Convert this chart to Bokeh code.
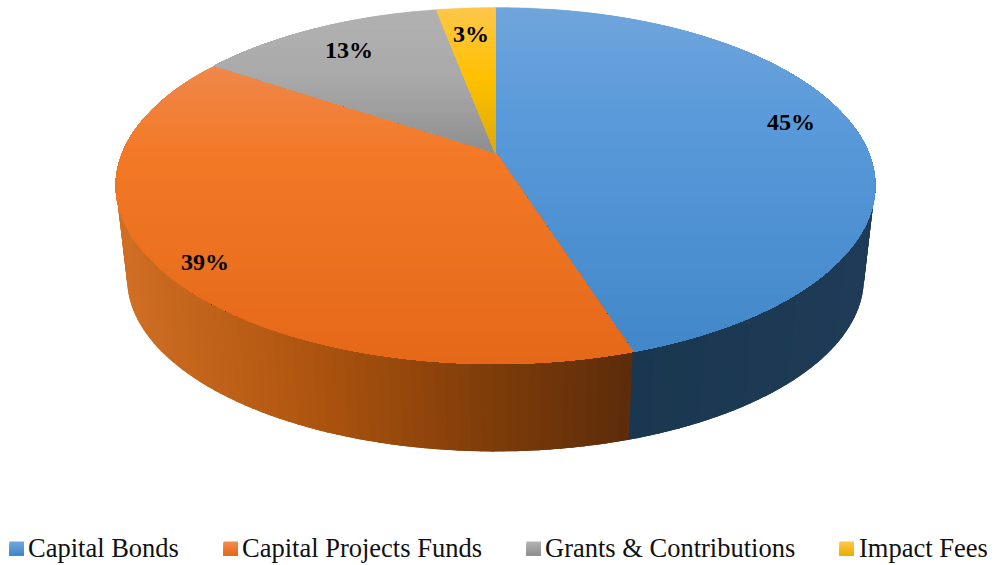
import numpy as np
from bokeh.plotting import figure
from bokeh.models import Range1d
from bokeh.core.properties import value
from bokeh.embed import file_html
from bokeh.resources import INLINE

categories = ["Capital Bonds", "Capital Projects Funds", "Grants & Contributions", "Impact Fees"]
shares = [45.1, 39.3, 12.6, 3.0]
share_labels = ["45%", "39%", "13%", "3%"]

# Vertical colour ramps of the top face: (position 0..1 within full disc height, rgb)
top_ramps = [
    [(0.0, (113, 165, 219)), (0.3, (91, 155, 218)), (1.0, (65, 135, 200))],
    [(0.0, (240, 145, 90)), (0.17, (239, 136, 75)), (0.4, (243, 122, 40)), (1.0, (229, 105, 25))],
    [(0.0, (178, 178, 178)), (0.2, (170, 170, 170)), (0.42, (142, 142, 142))],
    [(0.0, (253, 198, 75)), (0.2, (255, 192, 0)), (0.42, (218, 168, 12))],
]
# Horizontal colour ramps of the side wall: (pixel x, rgb)
side_ramps = [
    [(630, (26, 55, 80)), (870, (31, 59, 87))],
    [(120, (208, 110, 36)), (300, (176, 86, 16)), (400, (150, 72, 12)), (495, (125, 60, 10)), (630, (92, 44, 10))],
    [(120, (120, 120, 120)), (870, (90, 90, 90))],
    [(120, (180, 140, 0)), (870, (150, 120, 0))],
]
legend_ramps = [
    [(0.0, (113, 165, 219)), (1.0, (65, 135, 200))],
    [(0.0, (243, 140, 75)), (1.0, (229, 105, 25))],
    [(0.0, (178, 178, 178)), (1.0, (142, 142, 142))],
    [(0.0, (253, 198, 75)), (1.0, (235, 175, 0))],
]

# Perspective projection of the disc, in picture pixels
APEX_X, APEX_Y = 495.0, 152.0
AX, BY, K = 372.8, 171.9, 0.1854
FLOOR_SCALE, FLOOR_Y = 0.971, 246.0
TOP_Y, BOTTOM_Y = 7.0, 363.0


def project(theta):
    s, c = np.sin(theta), np.cos(theta)
    w = 1 + K * c
    return APEX_X + AX * s / w, APEX_Y - BY * c / w


def floor(x, y):
    return APEX_X + FLOOR_SCALE * (x - APEX_X), FLOOR_Y + FLOOR_SCALE * (y - APEX_Y)


def ramp(stops, t):
    ts = [a for a, _ in stops]
    rgb = [int(round(np.interp(t, ts, [col[i] for _, col in stops]))) for i in range(3)]
    return "#%02x%02x%02x" % tuple(rgb)


def clip_below(xs, ys, y0):
    """Part of a convex polygon with y >= y0."""
    ox, oy = [], []
    n = len(xs)
    for i in range(n):
        x1, y1, x2, y2 = xs[i], ys[i], xs[(i + 1) % n], ys[(i + 1) % n]
        if y1 >= y0:
            ox.append(x1)
            oy.append(y1)
        if (y1 >= y0) != (y2 >= y0):
            f = (y0 - y1) / (y2 - y1)
            ox.append(x1 + f * (x2 - x1))
            oy.append(y0)
    return ox, oy


p = figure(width=995, height=565, output_backend="svg", toolbar_location=None,
           x_range=Range1d(0, 995), y_range=Range1d(565, 0),
           min_border=0, min_border_left=0, min_border_right=0,
           min_border_top=0, min_border_bottom=0, background_fill_color="white",
           border_fill_color="white", outline_line_color=None)
p.axis.visible = False
p.grid.visible = False

edges = np.concatenate([[0], np.cumsum(shares)]) / np.sum(shares) * 2 * np.pi

# Side wall: overlapping slices painted in order, so no seams show
STEP = np.radians(1.5)
sx, sy, sc = [], [], []
for i in range(len(shares)):
    n = max(2, int(np.ceil((edges[i + 1] - edges[i]) / STEP)) + 1)
    th = np.linspace(edges[i], edges[i + 1], n)
    for a in th[:-1]:
        if np.cos(a) > 0.15:
            continue
        b = min(a + 2.2 * STEP, edges[i + 1] + STEP)
        mid = project(a + STEP / 2)[0]
        xa, ya = project(a)
        xm, ym = project((a + b) / 2)
        xb, yb = project(b)
        xc, yc = floor(xb, yb)
        xn, yn = floor(xm, ym)
        xd, yd = floor(xa, ya)
        sx.append([xa, xm, xb, xc, xn, xd])
        sy.append([ya, ym, yb, yc, yn, yd])
        sc.append(ramp(side_ramps[i], mid))
p.patches(sx, sy, fill_color=sc, line_color=None)

# Top face: each wedge repainted band by band from top to bottom
tx, ty, tc = [], [], []
for i in range(len(shares)):
    th = np.linspace(edges[i], edges[i + 1], max(3, int((edges[i + 1] - edges[i]) * 60)))
    ax, ay = project(th)
    wx = [APEX_X] + list(ax)
    wy = [APEX_Y] + list(ay)
    for y0 in np.arange(min(wy), max(wy), 2.0):
        cx, cy = clip_below(wx, wy, y0)
        if len(cx) < 3:
            continue
        tx.append(cx)
        ty.append(cy)
        tc.append(ramp(top_ramps[i], (y0 + 1 - TOP_Y) / (BOTTOM_Y - TOP_Y)))
p.patches(tx, ty, fill_color=tc, line_color=tc, line_width=0.4)

# Percentage labels
p.text(x=[790.5, 204.5, 348.5, 470.5], y=[121.5, 261.5, 49.5, 33.5], text=share_labels,
       text_font=value("Liberation Serif"), text_font_style="bold",
       text_font_size="24px", text_color="#000000",
       text_align="center", text_baseline="middle")

# Legend
swatch_x = [9, 223, 526, 839]
label_x = [27.5, 241.5, 544.5, 858.5]
lx, ly, lc = [], [], []
for i, x0 in enumerate(swatch_x):
    for k in range(14):
        lx.append([x0, x0 + 14.5, x0 + 14.5, x0])
        ly.append([541 + k, 541 + k, 555, 555])
        lc.append(ramp(legend_ramps[i], k / 13))
p.patches(lx, ly, fill_color=lc, line_color=None)
p.text(x=label_x, y=[547.5] * 4, text=categories, text_font=value("Liberation Serif"),
       text_font_size="26.5px", text_color="#111111", text_align="left", text_baseline="middle")

open("out.html", "w").write(file_html(p, INLINE))
